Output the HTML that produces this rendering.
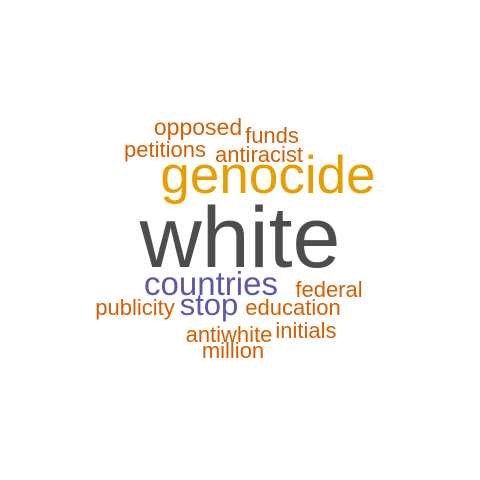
<!DOCTYPE html>
<html><head><meta charset="utf-8"><style>
html,body{margin:0;padding:0;background:#fff;}
svg{display:block;font-family:"Liberation Sans",Arial,sans-serif;}
</style></head><body>
<svg id="cloud" width="480" height="480" viewBox="0 0 480 480"></svg>
<script>
const words = ["white","genocide","countries","stop","opposed","funds","petitions","antiracist","federal","publicity","education","antiwhite","initials","million"];
const centerX = [240,268,211,209,198,272,165,259,329,135,293,229,306,233];
const baseY = [267,193,295,315,135,143,157,162,297,315,315,342,338,358];
const sizes = [86,53,33,31,23,22,22,22,22,22,22,22,22,22];
const colors = ["#4d4d4d","#e69f00","#5e58a8","#5e58a8","#d55e00","#d55e00","#d55e00","#d55e00","#d55e00","#d55e00","#d55e00","#d55e00","#d55e00","#d55e00"];
const svg = document.getElementById('cloud');
words.forEach((w,i)=>{
  const t = document.createElementNS('http://www.w3.org/2000/svg','text');
  t.setAttribute('x', centerX[i]);
  t.setAttribute('y', baseY[i]);
  t.setAttribute('text-anchor','middle');
  t.setAttribute('font-size', sizes[i]);
  t.setAttribute('fill', colors[i]);
  
  
  t.textContent = w;
  svg.appendChild(t);
});
</script>
</body></html>
